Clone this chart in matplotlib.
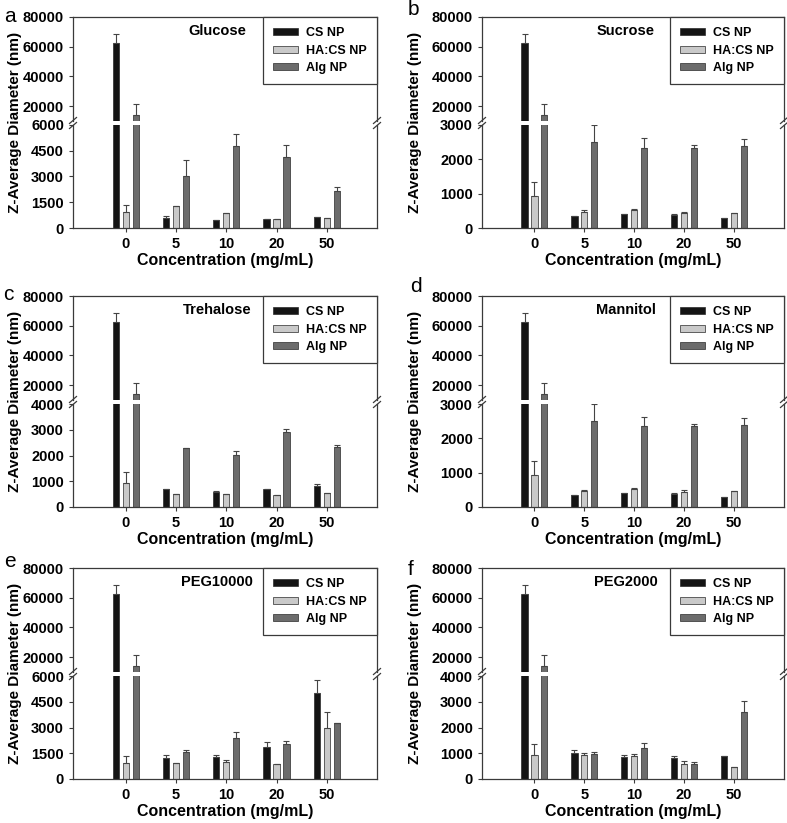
import numpy as np
import matplotlib
matplotlib.use("Agg")
import matplotlib.pyplot as plt
from matplotlib.lines import Line2D

plt.rcParams['font.family'] = ['Liberation Sans', 'DejaVu Sans']

# data (nm)
concentrations = ['0', '5', '10', '20', '50']
series = ['CS NP', 'HA:CS NP', 'Alg NP']
colors = ['#141414', '#c9c9c9', '#6c6c6c']
sugars = ['Glucose', 'Sucrose', 'Trehalose', 'Mannitol', 'PEG10000', 'PEG2000']
letters = ['a', 'b', 'c', 'd', 'e', 'f']

# rows: CS NP, HA:CS NP, Alg NP
glucose = [[62500, 580, 490, 520, 660],
           [940, 1260, 860, 540, 580],
           [14000, 3040, 4750, 4110, 2180]]
glucose_err = [[5800, 100, 0, 0, 0],
               [390, 20, 20, 0, 0],
               [7300, 910, 720, 740, 220]]

sucrose = [[62500, 360, 420, 380, 290],
           [940, 460, 535, 430, 450],
           [14000, 2500, 2330, 2330, 2390]]
sucrose_err = [[5800, 0, 0, 20, 0],
               [400, 55, 20, 50, 0],
               [7300, 490, 300, 85, 190]]

trehalose = [[62500, 700, 570, 700, 830],
             [940, 490, 490, 470, 545],
             [14000, 2300, 2010, 2900, 2330]]
trehalose_err = [[5800, 0, 65, 0, 50],
                 [430, 0, 0, 0, 0],
                 [7300, 0, 170, 120, 60]]

mannitol = [[62500, 360, 420, 380, 290],
            [940, 465, 535, 430, 455],
            [14000, 2510, 2345, 2345, 2395]]
mannitol_err = [[5800, 0, 0, 20, 0],
                [410, 40, 20, 55, 0],
                [7300, 480, 290, 60, 185]]

peg10000 = [[62500, 1250, 1290, 1850, 5010],
            [940, 920, 975, 880, 2980],
            [14000, 1560, 2360, 2050, 3240]]
peg10000_err = [[5800, 155, 115, 330, 780],
                [410, 0, 155, 0, 940],
                [7300, 140, 390, 175, 0]]

peg2000 = [[62500, 1025, 870, 820, 880],
           [940, 920, 885, 600, 455],
           [14000, 985, 1220, 585, 2610]]
peg2000_err = [[5800, 90, 65, 90, 0],
               [400, 80, 75, 90, 0],
               [7300, 65, 195, 65, 430]]

means = [glucose, sucrose, trehalose, mannitol, peg10000, peg2000]
errs = [glucose_err, sucrose_err, trehalose_err, mannitol_err, peg10000_err, peg2000_err]
low_top = [6000, 3000, 4000, 3000, 6000, 4000]
low_step = [1500, 1000, 1000, 1000, 1500, 1000]
upper_lim = (10000, 80000)
upper_ticks = [20000, 40000, 60000, 80000]

W, H = 787, 823
fig = plt.figure(figsize=(W / 100, H / 100), dpi=100)


def rect(x0, y0, x1, y1):
    # pixel box (top-left origin) -> figure fraction
    return [x0 / W, 1 - y1 / H, (x1 - x0) / W, (y1 - y0) / H]


cols = [(73, 377), (482, 784)]
rows = [17, 296, 568]
letter_pos = [(4, 22), (408, 15), (3, 300), (410, 292), (4, 567), (408, 575)]
ylab_x = [15, 415]

spine_c = '#3a3a3a'
x = np.arange(len(concentrations))
offsets = [-0.198, 0, 0.198]
bw = 0.125


def style(ax):
    for s in ax.spines.values():
        s.set_color(spine_c)
        s.set_linewidth(0.9)
    ax.tick_params(direction='out', length=3, width=0.8, color=spine_c, pad=3.5,
                   labelsize=10.5)
    for lab in ax.get_yticklabels() + ax.get_xticklabels():
        lab.set_fontweight('bold')


for k in range(6):
    c, r = k % 2, k // 2
    x0, x1 = cols[c]
    top = rows[r]
    up_bot = top + 104
    lo_top = top + 108
    bot = top + 211

    ax_up = fig.add_axes(rect(x0, top, x1, up_bot))
    ax_lo = fig.add_axes(rect(x0, lo_top, x1, bot))

    for ax in (ax_up, ax_lo):
        for j in range(3):
            ax.bar(x + offsets[j], means[k][j], width=bw, color=colors[j],
                   edgecolor='#2a2a2a', linewidth=0.5, label=series[j], zorder=2)
            ax.errorbar(x + offsets[j], means[k][j],
                        yerr=[np.zeros(5), errs[k][j]], fmt='none',
                        ecolor='#444444', elinewidth=0.8, capsize=2.5,
                        capthick=0.8, zorder=3)
        ax.set_xlim(-1.05, 5.0)

    ax_up.set_ylim(*upper_lim)
    ax_up.set_yticks(upper_ticks)
    ax_up.set_xticks([])
    ax_up.spines['bottom'].set_visible(False)

    ax_lo.set_ylim(0, low_top[k])
    ax_lo.set_yticks(np.arange(0, low_top[k] + 1, low_step[k]))
    ax_lo.set_xticks(x)
    ax_lo.set_xticklabels(concentrations)
    ax_lo.spines['top'].set_visible(False)
    style(ax_up)
    style(ax_lo)
    ax_lo.set_xlabel('Concentration (mg/mL)', fontsize=11.5, fontweight='bold',
                     labelpad=1.5)

    ax_up.text(0.475, 0.865, sugars[k], transform=ax_up.transAxes,
               ha='center', va='center', fontsize=10.5, fontweight='bold')

    leg = ax_up.legend(loc='upper right', bbox_to_anchor=(1, 1),
                       borderaxespad=0, fancybox=False, framealpha=1,
                       edgecolor=spine_c, prop={'weight': 'bold', 'size': 9},
                       handlelength=2.0, handleheight=0.5, labelspacing=0.45,
                       borderpad=0.8, handletextpad=0.7)
    leg.get_frame().set_linewidth(0.9)

    # break marks on both side spines
    yb = (up_bot + lo_top) / 2
    for xs in (x0, x1):
        for dy in (-2.5, 2.5):
            xa = [(xs - 3.5) / W, (xs + 3.5) / W]
            ya = [1 - (yb + dy + 3) / H, 1 - (yb + dy - 3) / H]
            fig.add_artist(Line2D(xa, ya, color=spine_c, lw=0.9))

    fig.text(ylab_x[c] / W, 1 - (top + bot) / 2 / H, 'Z-Average Diameter (nm)',
             rotation=90, ha='center', va='center', fontsize=11,
             fontweight='bold')
    lx, ly = letter_pos[k]
    fig.text(lx / W, 1 - ly / H, letters[k], ha='left', va='baseline',
             fontsize=15)

fig.savefig('out.png', dpi=100)
